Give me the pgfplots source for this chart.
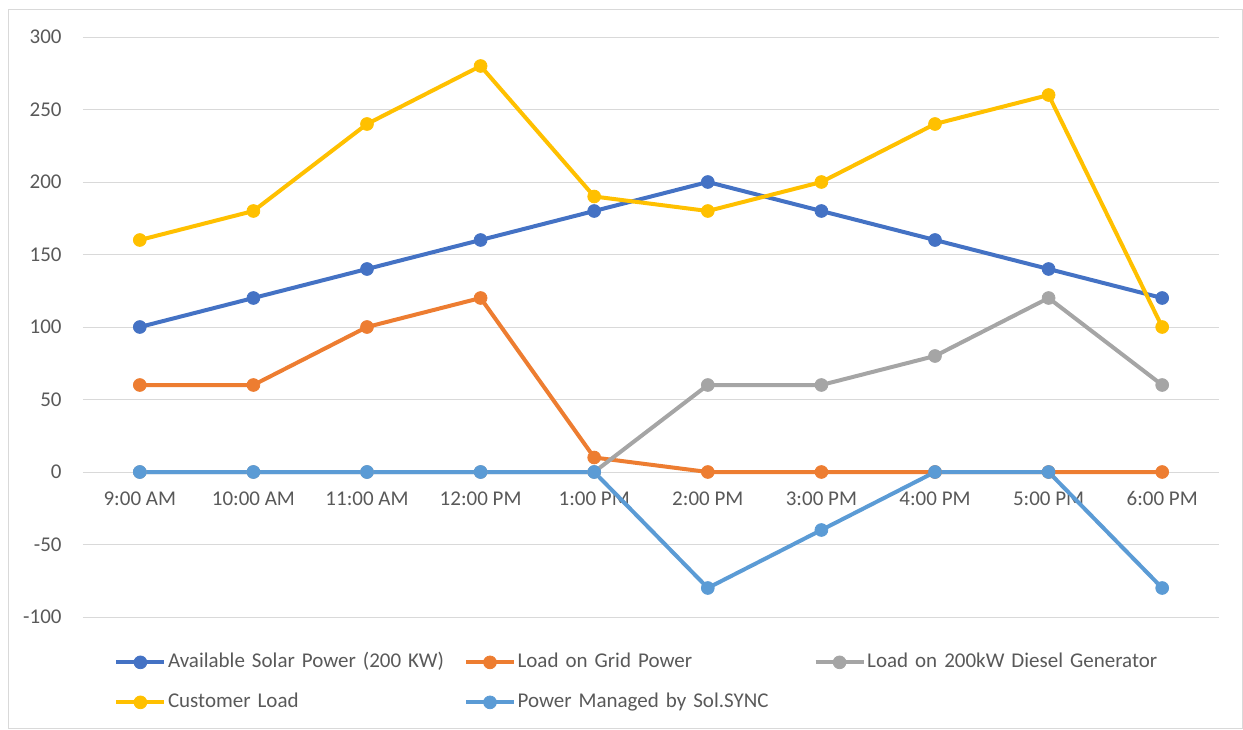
\documentclass[border=0pt]{standalone}
\usepackage{fontspec}
\setmainfont{Carlito}
\usepackage{pgfplots}
\pgfplotsset{compat=1.18}

\definecolor{solar}{HTML}{4472C4}
\definecolor{grid}{HTML}{ED7D31}
\definecolor{diesel}{HTML}{A5A5A5}
\definecolor{customer}{HTML}{FFC000}
\definecolor{solsync}{HTML}{5B9BD5}
\definecolor{gridc}{HTML}{D9D9D9}
\definecolor{labelc}{HTML}{595959}

\begin{document}
\fontsize{10.5}{12.6}\selectfont
\begin{tikzpicture}
\path[use as bounding box] (0,0) rectangle (621.5pt,364.5pt);
\draw[gridc, line width=0.5pt] (4pt,0.5pt) rectangle (621pt,359.5pt);
\begin{axis}[
  at={(41.5pt,56pt)}, anchor=south west,
  scale only axis, width=568pt, height=290pt,
  xmin=-0.5, xmax=9.5, ymin=-100, ymax=300,
  ytick={-100,-50,...,300},
  xtick={0,...,9},
  xticklabels={9:00 AM,10:00 AM,11:00 AM,12:00 PM,1:00 PM,2:00 PM,3:00 PM,4:00 PM,5:00 PM,6:00 PM},
  axis x line*=middle, axis y line*=left,
  x axis line style={draw=gridc, line width=0.5pt, -},
  y axis line style={draw=none},
  major tick length=0pt,
  ymajorgrids, grid style={draw=gridc, line width=0.5pt},
  /pgf/number format/assume math mode=true,
  tick label style={font=\fontsize{10.5}{12.6}\selectfont, text=labelc},
  yticklabel style={inner sep=0pt, anchor=east, xshift=-10.5pt},
  xticklabel style={inner sep=0pt, anchor=north, yshift=-9.6pt},
  clip=false,
  every axis plot/.append style={line width=2pt, mark=*, mark size=3.2pt,
    mark options={line width=0.4pt}},
  legend columns=3,
  legend cell align=left,
  legend style={draw=none, fill=none, inner sep=0pt,
    at={(axis description cs:0.0273,-0.062)}, anchor=north west,
    row sep=11pt,
    /tikz/every odd column/.style={column sep=0.8pt},
    nodes={inner sep=0pt, text width=148pt, text height=7pt, text depth=2pt,
      align=left, text=labelc, font=\fontsize{10.5}{12.6}\selectfont}},
  legend image code/.code={
    \draw[mark repeat=2, mark phase=2] plot coordinates {(0pt,0pt) (12pt,0pt) (24pt,0pt)};
  },
]
\addplot[color=solar] coordinates {(0,100) (1,120) (2,140) (3,160) (4,180) (5,200) (6,180) (7,160) (8,140) (9,120)};
\addlegendentry{Available Solar Power (200 KW)}
\addplot[color=grid] coordinates {(0,60) (1,60) (2,100) (3,120) (4,10) (5,0) (6,0) (7,0) (8,0) (9,0)};
\addlegendentry{Load on Grid Power}
\addplot[color=diesel] coordinates {(0,0) (1,0) (2,0) (3,0) (4,0) (5,60) (6,60) (7,80) (8,120) (9,60)};
\addlegendentry{Load on 200kW Diesel Generator}
\addplot[color=customer] coordinates {(0,160) (1,180) (2,240) (3,280) (4,190) (5,180) (6,200) (7,240) (8,260) (9,100)};
\addlegendentry{Customer Load}
\addplot[color=solsync] coordinates {(0,0) (1,0) (2,0) (3,0) (4,0) (5,-80) (6,-40) (7,0) (8,0) (9,-80)};
\addlegendentry{Power Managed by Sol.SYNC}
\end{axis}
\end{tikzpicture}
\end{document}
